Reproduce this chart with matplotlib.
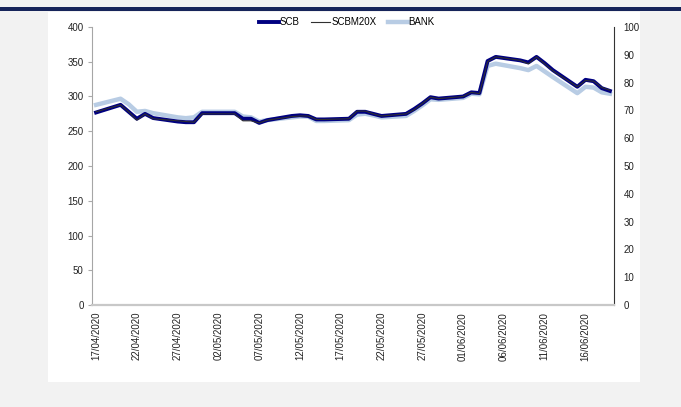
import matplotlib
matplotlib.use("Agg")
import matplotlib.pyplot as plt
import matplotlib.dates as mdates
from matplotlib.patches import Rectangle
import numpy as np
import datetime as dt

plt.rcParams['font.family'] = ['Liberation Sans', 'DejaVu Sans']

dates = ["17/04", "20/04", "21/04", "22/04", "23/04", "24/04", "27/04", "28/04",
         "29/04", "30/04", "04/05", "05/05", "06/05", "07/05", "08/05", "11/05",
         "12/05", "13/05", "14/05", "15/05", "18/05", "19/05", "20/05", "21/05",
         "22/05", "25/05", "26/05", "27/05", "28/05", "29/05", "01/06", "02/06",
         "03/06", "04/06", "05/06", "08/06", "09/06", "10/06", "11/06", "12/06",
         "15/06", "16/06", "17/06", "18/06", "19/06"]

scb = [277, 288, 278, 268, 275, 269, 264, 263, 263, 276, 276, 268, 268, 262,
       266, 272, 273, 272, 267, 267, 268, 278, 278, 275, 272, 275, 282, 290,
       299, 297, 300, 306, 305, 351, 357, 352, 349, 357, 348, 338, 314, 324,
       322, 312, 308]

scbm20x = [278, 288, 278, 266, 275, 268, 265, 264, 263, 275, 275, 265, 265, 262,
           266, 271, 272, 272, 267, 267, 268, 279, 279, 275, 272, 275, 281, 290,
           299, 297, 300, 306, 304, 350, 357, 352, 347, 357, 347, 337, 314, 323,
           322, 313, 309]

bank = [72.0, 74.2, 72.2, 69.5, 69.8, 69.0, 67.5, 67.2, 67.5, 69.5, 69.5, 67.8,
        67.5, 66.0, 66.5, 67.5, 67.8, 67.8, 66.2, 66.2, 66.5, 68.5, 68.8, 68.2,
        67.5, 68.0, 69.8, 71.8, 74.0, 73.8, 74.5, 76.0, 75.8, 86.0, 86.8, 85.2,
        84.5, 86.0, 84.0, 82.0, 76.2, 78.5, 78.2, 76.5, 76.0]

x = [dt.datetime.strptime(d + "/2020", "%d/%m/%Y") for d in dates]

fig = plt.figure(figsize=(6.81, 4.07), dpi=100)
fig.patch.set_facecolor("#f2f2f2")

# white panel and navy band at the top
W, H = 681, 407
fig.patches.append(Rectangle((48 / W, 1 - 382 / H), 592 / W, 370 / H,
                             transform=fig.transFigure, facecolor="white",
                             edgecolor="none", zorder=-5))
fig.patches.append(Rectangle((0, 1 - 11 / H), 1, 4 / H,
                             transform=fig.transFigure, facecolor="#16245a",
                             edgecolor="none", zorder=-5))

ax = fig.add_axes([92 / W, 102 / H, 522 / W, 278 / H])
ax.set_facecolor("none")
ax2 = ax.twinx()
ax2.set_facecolor("none")

l3, = ax2.plot(x, bank, color="#b8cce4", lw=3.2, label="BANK", zorder=1)
l1, = ax.plot(x, scb, color="#000080", lw=2.8, label="SCB", zorder=2)
l2, = ax.plot(x, scbm20x, color="#303030", lw=0.8, label="SCBM20X", zorder=3)
ax.set_zorder(ax2.get_zorder() + 1)

ax.set_xlim(dt.datetime(2020, 4, 16, 12), dt.datetime(2020, 6, 19, 12))
ax.set_ylim(0, 400)
ax2.set_ylim(0, 100)
ax.set_yticks(np.arange(0, 401, 50))
ax2.set_yticks(np.arange(0, 101, 10))

ticks = [dt.datetime(2020, 4, 17) + dt.timedelta(days=5 * i) for i in range(13)]
ax.set_xticks(ticks)
ax.xaxis.set_major_formatter(mdates.DateFormatter("%d/%m/%Y"))
ax.tick_params(axis="x", rotation=90, length=0, labelsize=7, colors="#222222", pad=5)
ax.tick_params(axis="y", length=3, color="#aaaaaa", labelsize=7, labelcolor="#222222", pad=3)
ax2.tick_params(axis="y", length=0, labelsize=7, labelcolor="#222222", pad=7)

for a in (ax, ax2):
    a.spines["top"].set_visible(False)
ax.spines["right"].set_visible(False)
ax2.spines["left"].set_visible(False)
ax2.spines["bottom"].set_visible(False)
ax.spines["left"].set_color("#a6a6a6")
ax.spines["bottom"].set_color("#c8c8c8")
ax.spines["bottom"].set_linewidth(1.6)
ax2.spines["right"].set_color("#333333")

fig.legend(handles=[l1, l2, l3], loc="center", bbox_to_anchor=(347 / W, 1 - 22 / H),
           ncol=3, frameon=False, fontsize=7, handlelength=2.0, handletextpad=0.1,
           columnspacing=1.2)

fig.savefig("out.png", dpi=100)
